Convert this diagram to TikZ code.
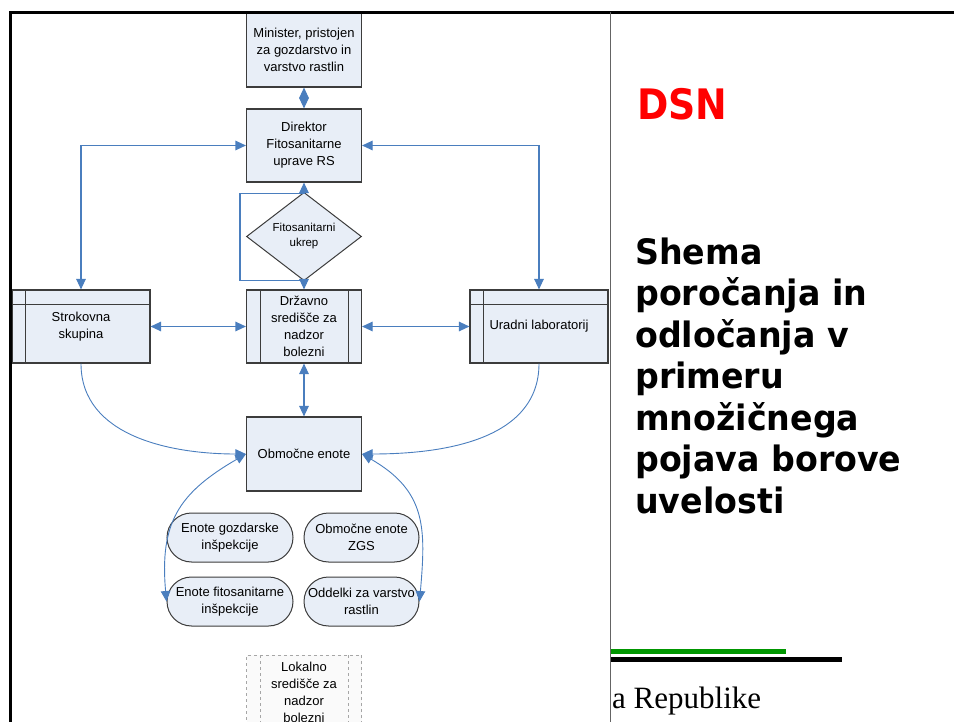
\documentclass[tikz,border=0pt]{standalone}
\usepackage{fontspec}
\setmainfont{Liberation Sans}
\newfontfamily\titlefont{DejaVu Sans}[FakeStretch=0.9]
\newfontfamily\headfont{DejaVu Sans}[FakeStretch=0.95]
\newfontfamily\slideserif{Liberation Serif}
\usepackage{xcolor}
\usetikzlibrary{arrows.meta,positioning,shapes.geometric}

\definecolor{boxfill}{RGB}{232,238,247}
\definecolor{boxline}{RGB}{60,60,60}
\definecolor{linkblue}{RGB}{74,126,190}
\definecolor{bargreen}{RGB}{0,150,0}
\definecolor{framegray}{RGB}{100,100,100}

\begin{document}
\begin{tikzpicture}[
        x=1pt, y=-1pt,
        font=\fontsize{13}{17}\selectfont,
        % osnovni gradniki sheme
        box/.style={draw=boxline, fill=boxfill, line width=1.1pt, minimum width=115pt, minimum height=74pt, align=center, inner sep=1pt},
        procbox/.style={box, path picture={
            \draw[line width=1pt] ([xshift=14pt]path picture bounding box.north west) -- ([xshift=14pt]path picture bounding box.south west)
                                  ([xshift=-13pt]path picture bounding box.north east) -- ([xshift=-13pt]path picture bounding box.south east);}},
        storebox/.style={box, minimum width=138pt, path picture={
            \draw[line width=1pt] ([xshift=13pt]path picture bounding box.north west) -- ([xshift=13pt]path picture bounding box.south west)
                                  ([yshift=-15pt]path picture bounding box.north west) -- ([yshift=-15pt]path picture bounding box.north east);}},
        localbox/.style={draw=gray!70, fill=gray!4, dashed, line width=0.8pt},
        decision/.style={diamond, draw=boxline, fill=boxfill, line width=1pt, minimum width=115pt, minimum height=73pt, inner sep=0pt, align=center, font=\fontsize{11.5}{15}\selectfont},
        unitbox/.style={draw=boxline, fill=boxfill, line width=1pt, rounded corners=24.5pt, minimum width=115pt, minimum height=49pt, align=center, inner sep=1pt},
        link/.style={arrows={Triangle[length=10.5pt,width=9.5pt]-Triangle[length=10.5pt,width=9.5pt]}, draw=linkblue, line width=1.1pt},
        curvelink/.style={draw=linkblue, line width=0.9pt},
        onehead/.style={arrows={-Triangle[length=10.5pt,width=9.5pt]}},
        twohead/.style={arrows={Triangle[length=10.5pt,width=9.5pt]-Triangle[length=10.5pt,width=9.5pt]}}
    ]

    \useasboundingbox (0,0) rectangle (954,722);

    % ==========================================
    % 1. vozlisca sheme (srednji stolpec X = 304)
    % ==========================================
    \node[box] (minister) at (304,50) {Minister, pristojen\\za gozdarstvo in\\varstvo rastlin};
    \node[box, minimum height=73pt] (direktor) at (304,145.5) {Direktor\\Fitosanitarne\\uprave RS};
    \node[decision] (ukrep) at (304,236.5) {Fitosanitarni\\ukrep};

    % --- vrstica strokovnih sluzb (Y = 326.5) ---
    \node[storebox, minimum height=73pt] (strokovna) at (81,326.5) {Strokovna\\skupina};
    \node[procbox, minimum height=73pt] (drzavno) at (304,326.5) {Državno\\središče za\\nadzor\\bolezni};
    \node[storebox, minimum height=73pt] (uradni) at (539,326.5) {Uradni laboratorij};

    \node[box] (obmocne) at (304,454) {Območne enote};

    % --- izvajalske enote ---
    \node[unitbox, minimum width=126pt] (gozdarske) at (230,537.5) {Enote gozdarske\\inšpekcije};
    \node[unitbox] (zgs) at (361.5,537.5) {Območne enote\\ZGS};
    \node[unitbox, minimum width=126pt] (fitosan) at (230,601.5) {Enote fitosanitarne\\inšpekcije};
    \node[unitbox] (oddelki) at (361.5,601.5) {Oddelki za varstvo\\rastlin};

    \node[procbox, localbox] (lokalno) at (304,692) {Lokalno\\središče za\\nadzor\\bolezni};

    % ==========================================
    % 2. povezave
    % ==========================================
    \draw[link] (minister) -- (direktor);
    \draw[link] (strokovna.north) |- (direktor.west);
    \draw[link] (uradni.north) |- (direktor.east);
    \draw[link] (direktor.south) -- ++(0,11) -- ++(-64,0) |- ([yshift=9pt]drzavno.north) -- (drzavno.north);

    \draw[link] (strokovna) -- (drzavno);
    \draw[link] (drzavno) -- (uradni);
    \draw[link] (drzavno) -- (obmocne);

    % porocanje navzdol proti obmocnim enotam
    \draw[curvelink, onehead] (strokovna.south) to[out=-90, in=180] (obmocne.west);
    \draw[curvelink, onehead] (uradni.south) to[out=-90, in=0] (obmocne.east);
    \draw[curvelink, twohead] (obmocne.west) to[out=210, in=95, looseness=1.2] (fitosan.west);
    \draw[curvelink, twohead] (obmocne.east) to[out=-30, in=85, looseness=1.2] (oddelki.east);

    % ==========================================
    % 3. okvir prosojnice in naslov
    % ==========================================
    \draw[line width=3pt] (10.5,722) -- (10.5,12.5) -- (954,12.5);
    \draw[framegray, line width=1.5pt] (610.5,12.5) -- (610.5,722);

    \node[anchor=base west, inner sep=0pt, text=red, font=\titlefont\bfseries\fontsize{42}{50}\selectfont] (dsn) at (637,120) {DSN};
    % vecvrsticno vozlisce: base = zadnja vrstica
    \node[anchor=base west, inner sep=0pt, align=left, font=\headfont\bfseries\fontsize{35}{41.5}\selectfont] (naslov) at (635,513)
        {Shema\\poročanja in\\odločanja v\\primeru\\množičnega\\pojava borove\\uvelosti};

    \draw[bargreen, line width=5pt] (611,651.3) -- (786,651.3);
    \draw[line width=5pt] (611,659.5) -- (842,659.5);
    \node[anchor=base west, inner sep=0pt, font=\slideserif\fontsize{31}{36}\selectfont] (republika) at (612,708) {a Republike};

\end{tikzpicture}
\end{document}
